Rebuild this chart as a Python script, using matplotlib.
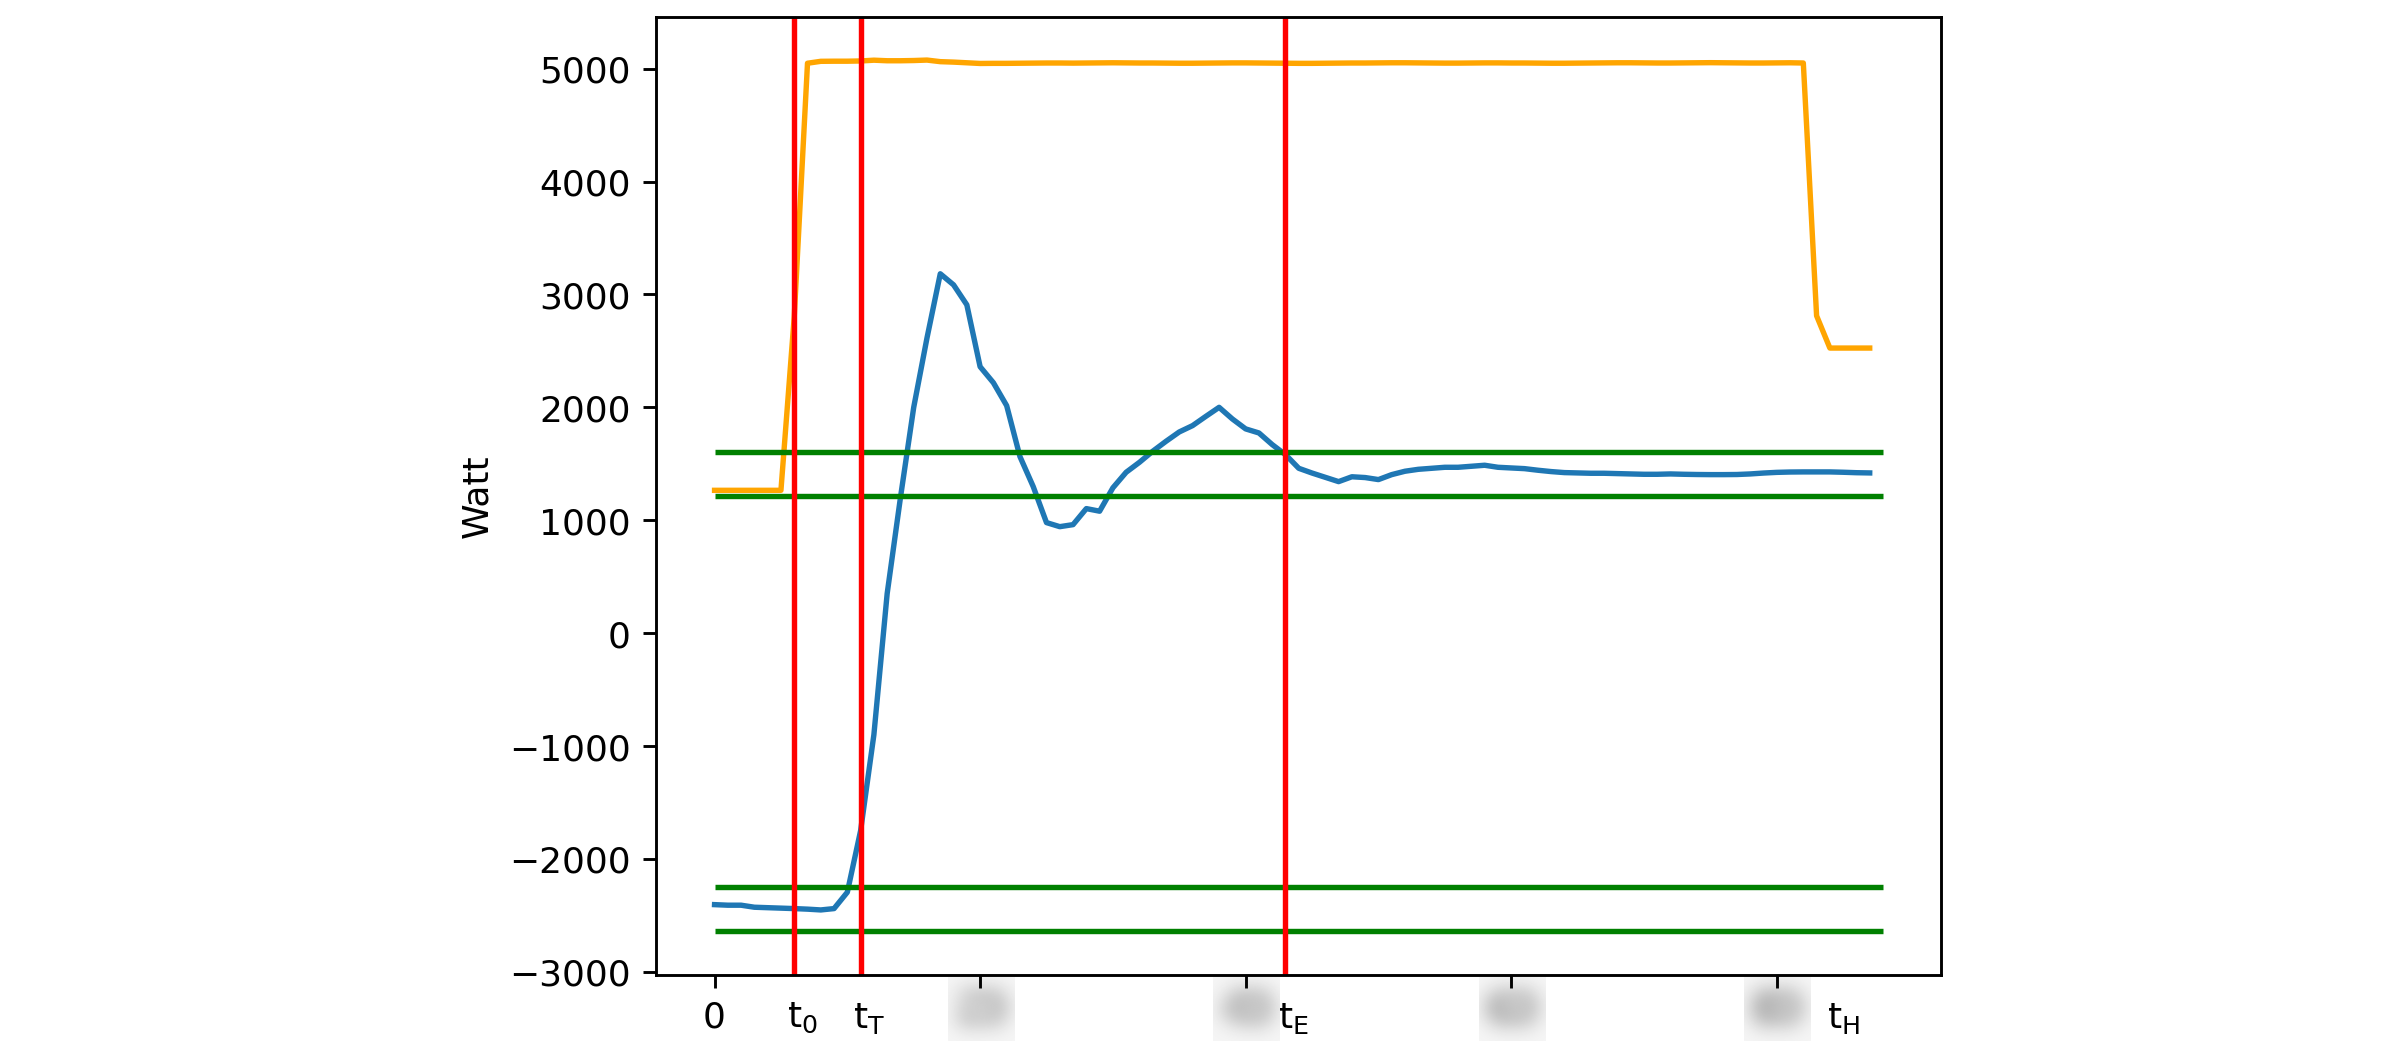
import numpy as np
import matplotlib
matplotlib.use("Agg")
import matplotlib.pyplot as plt
from matplotlib.ticker import FixedLocator, FixedFormatter

plt.rcParams["mathtext.default"] = "regular"

# power of the controlled unit (blue) and of the set point (orange), in Watt
power = [
    -2405, -2410, -2410, -2428, -2432, -2436, -2440, -2445, -2452, -2440,
    -2295, -1750, -900, 350, 1200, 2000, 2615, 3183, 3085, 2908,
    2360, 2218, 2015, 1564, 1298, 979, 943, 961, 1103, 1080,
    1287, 1425, 1513, 1611, 1699, 1782, 1838, 1920, 2000, 1897,
    1809, 1773, 1670, 1581, 1460, 1418, 1380, 1342, 1385, 1378,
    1360, 1404, 1434, 1451, 1460, 1469, 1469, 1478, 1487, 1469,
    1463, 1457, 1443, 1431, 1422, 1419, 1416, 1416, 1413, 1410,
    1407, 1407, 1410, 1407, 1405, 1404, 1404, 1405, 1410, 1418,
    1424, 1427, 1428, 1428, 1428, 1425, 1421, 1419,
]

setpoint = [
    1265, 1265, 1265, 1265, 1265, 1265, 2800, 5048, 5065, 5066,
    5066, 5068, 5075, 5070, 5070, 5072, 5076, 5062, 5058, 5052,
    5046, 5047, 5047, 5048, 5049, 5050, 5050, 5049, 5050, 5051,
    5052, 5051, 5050, 5050, 5049, 5048, 5048, 5049, 5050, 5051,
    5051, 5050, 5049, 5048, 5047, 5047, 5048, 5049, 5050, 5050,
    5051, 5052, 5052, 5051, 5050, 5049, 5049, 5050, 5051, 5051,
    5050, 5050, 5049, 5048, 5048, 5049, 5050, 5051, 5052, 5052,
    5051, 5050, 5050, 5051, 5052, 5053, 5052, 5051, 5050, 5050,
    5051, 5052, 5050, 2811, 2525, 2525, 2525, 2525,
]

# tolerance bands
bands = [1602, 1219, -2253, -2642]

# event times (samples)
events = [6, 11, 43]
event_names = ["t$_0$", "t$_T$", "t$_E$", "t$_H$"]
event_label_pos = [6.6, 11.6, 43.6, 85.0]

tick_pos = [0, 20, 40, 60, 80]
tick_names = ["0", "20", "40", "60", "80"]


def blur(im, dpi):
    # hides the numbers like in the original screenshot
    pad = 12
    h, w, _ = im.shape
    big = np.zeros((h + 2 * pad, w + 2 * pad, 4))
    big[pad:pad + h, pad:pad + w] = im
    sigma = 11
    r = np.arange(-3 * sigma, 3 * sigma + 1)
    k = np.exp(-r ** 2 / (2. * sigma ** 2))
    k /= k.sum()
    big = np.apply_along_axis(np.convolve, 0, big, k, mode="same")
    big = np.apply_along_axis(np.convolve, 1, big, k, mode="same")
    big[..., 3] = np.clip(big[..., 3] * 1.3 + 0.04, 0, 1)
    return big, -pad, -pad


dpi = 259.2
fig = plt.figure(figsize=(2400.5 / dpi, 1063.5 / dpi), dpi=dpi)
ax = fig.add_axes([656 / 2400, 88 / 1063, 1285 / 2400, 958 / 1063])

x = np.arange(len(power))
ax.plot(x, power)
ax.plot(x, setpoint, color="orange")
ax.hlines(bands, 0, len(power), colors="green", linewidth=1.5)
for t in events:
    ax.axvline(t, color="red", linewidth=1.5)

ax.set_ylabel("Watt")

ax.xaxis.set_major_locator(FixedLocator(tick_pos))
ax.xaxis.set_major_formatter(FixedFormatter(tick_names))
ax.xaxis.set_minor_locator(FixedLocator(event_label_pos))
ax.xaxis.set_minor_formatter(FixedFormatter(event_names))
ax.tick_params(axis="x", which="minor", length=0, pad=7)

for lab in ax.get_xticklabels()[1:]:
    lab.set_agg_filter(blur)

fig.savefig("out.png", dpi=dpi)
